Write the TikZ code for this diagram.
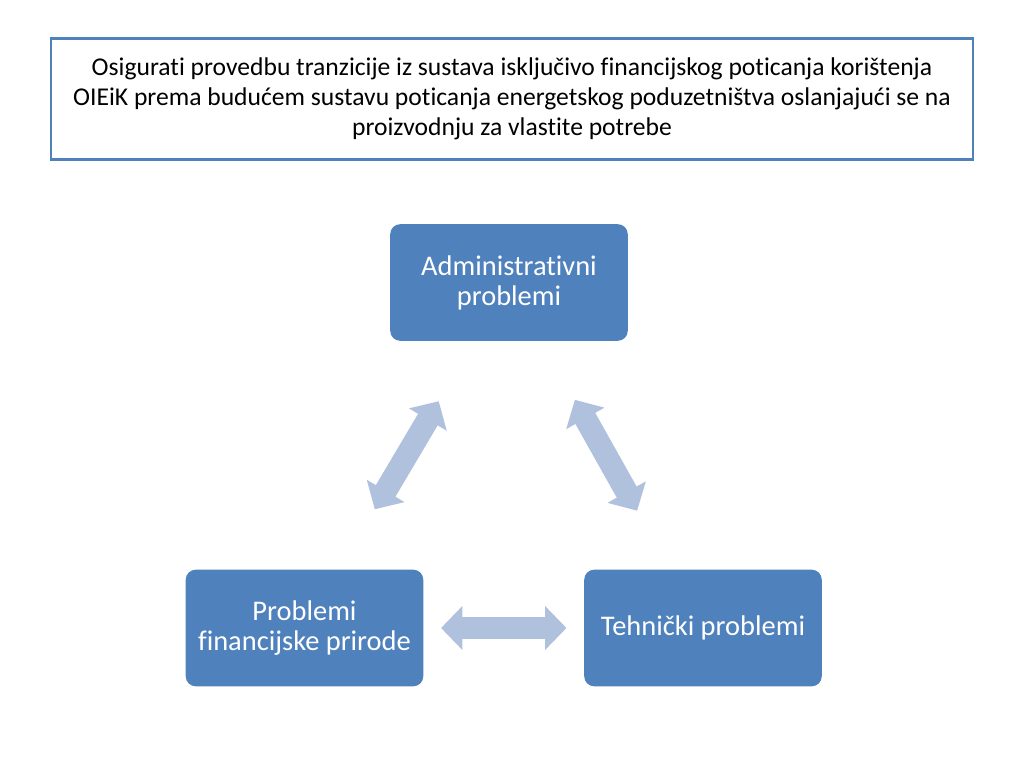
\documentclass[tikz,border=0pt]{standalone}
\usepackage{fontspec}
\setmainfont{Carlito}[Ligatures=CommonOff]
\usetikzlibrary{arrows.meta}

\definecolor{boxblue}{RGB}{79,129,189}
\definecolor{arrowblue}{RGB}{176,193,222}

\begin{document}
\begin{tikzpicture}[x=0.7031pt,y=-0.7031pt,
    goal/.style={draw=boxblue, line width=1.5pt, fill=white, minimum width=648pt,
      minimum height=85pt, align=center, font=\fontsize{18}{21.1}\selectfont},
    problem/.style={fill=boxblue, rounded corners=7pt, minimum width=167pt,
      minimum height=82pt, align=center, text=white, font=\fontsize{20}{21.1}\selectfont},
    link/.style={draw=arrowblue, line width=16pt,
      {Triangle[length=15pt,width=30pt]}-{Triangle[length=15pt,width=30pt]}}]
  \useasboundingbox (0,0) rectangle (1024,768);

  \node[goal] (goal) at (512,99) {Osigurati provedbu tranzicije iz sustava isključivo financijskog poticanja korištenja\\
    OIEiK prema budućem sustavu poticanja energetskog poduzetništva oslanjajući se na\\
    proizvodnju za vlastite potrebe};

  \node[problem] (admin) at (509,282.5) {Administrativni\\problemi};
  \node[problem] (fin) at (304.5,628) {Problemi\\financijske prirode};
  \node[problem] (tech) at (703,628) {Tehnički problemi};

  % veze izmedju problema
  \draw[link, shorten <=97pt, shorten >=97pt] (fin.center) -- (admin.center);
  \draw[link, shorten <=94.6pt, shorten >=94.6pt] (admin.center) -- (tech.center);
  \draw[link, shorten <=96pt, shorten >=96pt] (fin.center) -- (tech.center);
\end{tikzpicture}
\end{document}
